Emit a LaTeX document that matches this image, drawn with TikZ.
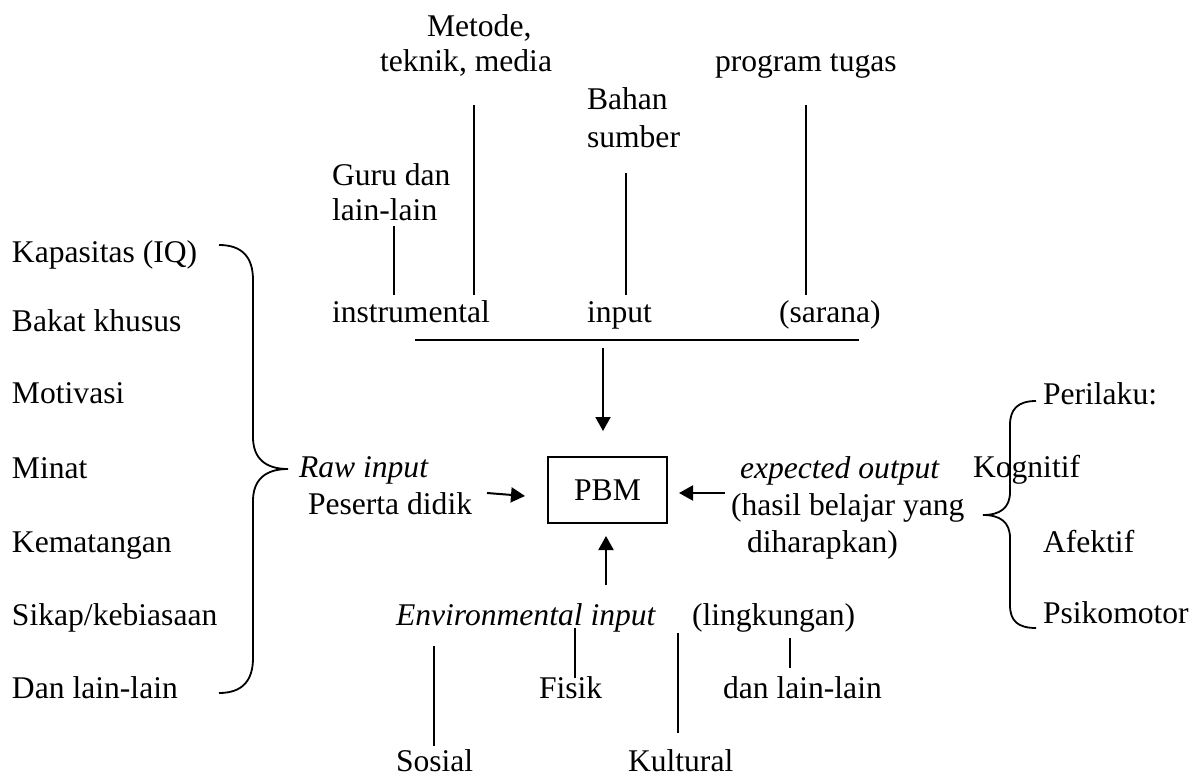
\documentclass[tikz,border=0pt]{standalone}
\usepackage{fontspec}
\setmainfont{Liberation Serif}
\usetikzlibrary{arrows.meta}
\begin{document}
\begin{tikzpicture}[x=1pt,y=-1pt,
  txt/.style={anchor=base west,inner sep=0pt,outer sep=0pt,font=\fontsize{31.6}{38}\selectfont},
  itx/.style={txt,font=\fontsize{31.6}{38}\selectfont\itshape},
  ln/.style={line width=2pt},
  arr/.style={line width=2pt,-{Triangle[length=14pt,width=15pt]}},
  brc/.style={line width=1.8pt}]
\useasboundingbox (0,0) rectangle (1194,776);
\fill[white] (0,0) rectangle (1194,776);
% top labels
\node[txt] (metode) at (427,37) {Metode,};
\node[txt] (teknik) at (380,72) {teknik, media};
\node[txt] (program) at (715,72) {program tugas};
\node[txt] (bahan) at (587,110) {Bahan};
\node[txt] (sumber) at (587,147) {sumber};
\node[txt] (guru) at (332,185) {Guru dan};
\node[txt] (lainG) at (332,220) {lain-lain};
\node[txt] (instr) at (332,322) {instrumental};
\node[txt] (inp) at (587,322) {input};
\node[txt] (sarana) at (779,322) {(sarana)};
% vertical ticks top
\coordinate (g1) at (394,226); \coordinate (g2) at (394,295);
\coordinate (m1) at (474,105); \coordinate (m2) at (474,295);
\coordinate (b1) at (626,173); \coordinate (b2) at (626,295);
\coordinate (p1) at (806,105); \coordinate (p2) at (806,295);
\draw[ln] (g1) -- (g2);
\draw[ln] (m1) -- (m2);
\draw[ln] (b1) -- (b2);
\draw[ln] (p1) -- (p2);
\coordinate (hl) at (415,340); \coordinate (hr) at (859,340);
\draw[ln] (hl) -- (hr);
% left column
\node[txt] (k1) at (12,262) {Kapasitas (IQ)};
\node[txt] (k2) at (12,331) {Bakat khusus};
\node[txt] (k3) at (12,403) {Motivasi};
\node[txt] (k4) at (12,478) {Minat};
\node[txt] (k5) at (12,552) {Kematangan};
\node[txt] (k6) at (12,625) {Sikap/kebiasaan};
\node[txt] (k7) at (12,698) {Dan lain-lain};
% left brace
\draw[brc] (219,245) .. controls (242,245) and (253,257) .. (253,280) -- (253,437)
  .. controls (253,458) and (265,469) .. (288,469)
  .. controls (265,469) and (253,480) .. (253,501) -- (253,658)
  .. controls (253,681) and (242,693) .. (219,693);
\node[itx] (raw) at (299,477) {Raw input};
\node[txt] (peserta) at (308,514) {Peserta didik};
% PBM
\node[draw,line width=2pt,minimum width=119pt,minimum height=66pt,inner sep=0pt,
  font=\fontsize{31.6}{38}\selectfont] (pbm) at (607.5,490) {PBM};
\coordinate (ta) at (603,348); \coordinate (tb) at (603,431);
\draw[arr] (ta) -- (tb);
\coordinate (la) at (487,493); \coordinate (lb) at (525,496);
\draw[arr] (la) -- (lb);
\coordinate (ra) at (725,493); \coordinate (rb) at (679,493);
\draw[arr] (ra) -- (rb);
\coordinate (ba) at (606,585); \coordinate (bb) at (606,536);
\draw[arr] (ba) -- (bb);
% right side
\node[itx] (exp) at (740,478) {expected output};
\node[txt] (hasil) at (731,515) {(hasil belajar yang};
\node[txt] (diha) at (747,552) {diharapkan)};
\draw[brc] (1036,401) .. controls (1018,401) and (1010,409) .. (1010,425) -- (1010,492)
  .. controls (1010,508) and (1000,515) .. (983,515)
  .. controls (1000,515) and (1010,522) .. (1010,538) -- (1010,605)
  .. controls (1010,621) and (1018,628) .. (1036,628);
\node[txt] (perilaku) at (1043,404) {Perilaku:};
\node[txt] (kog) at (973,477) {Kognitif};
\node[txt] (afek) at (1043,552) {Afektif};
\node[txt] (psi) at (1043,623) {Psikomotor};
% bottom
\node[itx] (env) at (396,625) {Environmental input};
\node[txt] (ling) at (692,625) {(lingkungan)};
\node[txt] (fisik) at (539,698) {Fisik};
\node[txt] (dll) at (723,698) {dan lain-lain};
\node[txt] (sosial) at (396,771) {Sosial};
\node[txt] (kult) at (628,771) {Kultural};
\coordinate (s1) at (434,646); \coordinate (s2) at (434,746);
\coordinate (f1) at (575,628); \coordinate (f2) at (575,678);
\coordinate (c1) at (678,633); \coordinate (c2) at (678,733);
\coordinate (d1) at (790,638); \coordinate (d2) at (790,668);
\draw[ln] (s1) -- (s2);
\draw[ln] (f1) -- (f2);
\draw[ln] (c1) -- (c2);
\draw[ln] (d1) -- (d2);
\end{tikzpicture}
\end{document}
